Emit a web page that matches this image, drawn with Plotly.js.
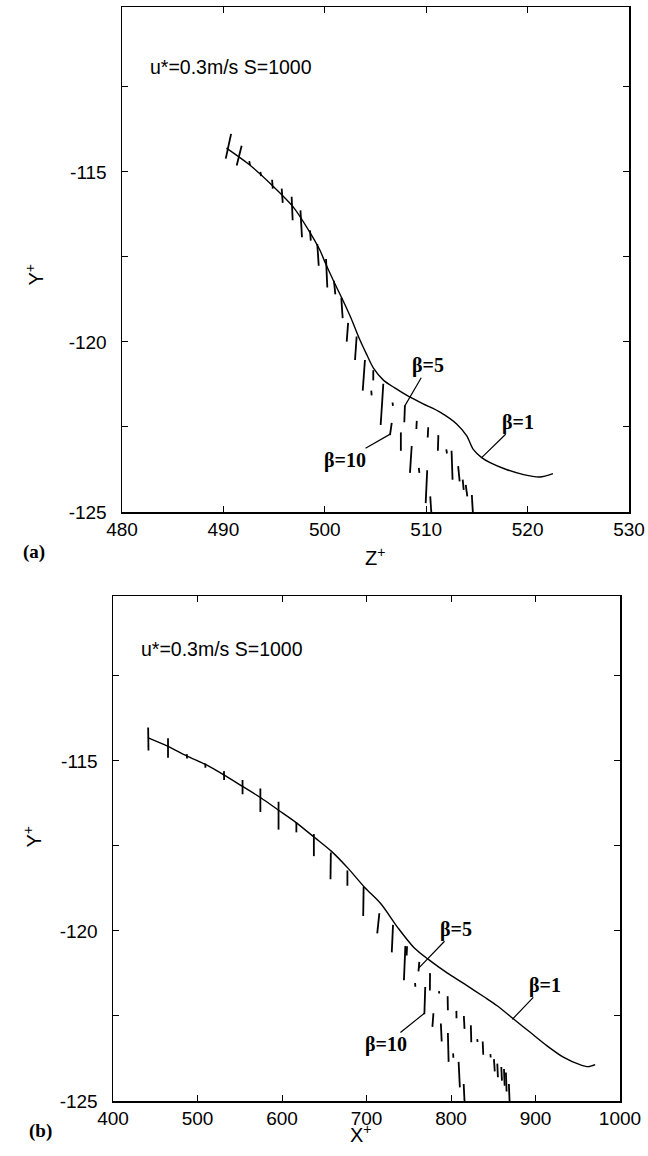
<!DOCTYPE html>
<html>
<head>
<meta charset="utf-8">
<script src="https://cdn.plot.ly/plotly-3.0.1.min.js"></script>
<style>html,body{margin:0;padding:0;background:#fff;}#chart{width:648px;height:1156px;}</style>
</head>
<body>
<div id="chart"></div>
<script>
// ---------- Panel (a): Y+ vs Z+ ----------
const zTicks = [480, 490, 500, 510, 520, 530];
const yTickVals = [-125, -120, -115];
const yTickText = ['-125', '-120', '-115'];
const yMinorVals = [-122.5, -117.5, -112.5];

const beta1Z = [490.3, 492.57, 494.8, 496.86, 498.5, 499.5, 500.1, 500.9, 501.76, 502.57, 503.4, 504.1, 504.8, 505.8, 506.9, 508.1, 509.7, 511.4, 513.0, 514.0, 514.64, 515.47, 516.3, 517.9, 519.6, 521.2, 522.5];
const beta1Ya = [-114.3, -114.79, -115.39, -116.02, -116.76, -117.29, -117.71, -118.23, -118.76, -119.29, -119.9, -120.35, -120.77, -121.13, -121.35, -121.57, -121.82, -122.07, -122.41, -122.76, -123.16, -123.4, -123.55, -123.75, -123.9, -123.97, -123.87];

// dashes [z0, y0, z1, y1] common to beta=5 and beta=10 before they separate
const sharedA = [
  [490.23, -114.61, 490.76, -113.88], [491.31, -114.81, 491.8, -114.23],
  [492.55, -114.68, 492.62, -114.8], [493.65, -115.0, 493.72, -115.12],
  [494.8, -115.23, 494.87, -115.49], [495.75, -115.49, 495.85, -115.91],
  [496.73, -115.73, 496.83, -116.42], [497.6, -116.13, 497.75, -116.92],
  [498.54, -116.72, 498.62, -117.02], [499.26, -117.12, 499.4, -117.76],
  [500.12, -117.56, 500.25, -118.4], [500.9, -118.2, 501.04, -118.6],
  [501.63, -118.7, 501.76, -119.3], [502.3, -119.44, 502.16, -119.99],
  [503.14, -119.84, 502.98, -120.53]
];
const beta5A = [
  [504.78, -120.83, 504.78, -121.13], [506.68, -121.78, 506.72, -121.88],
  [507.9, -121.87, 507.84, -122.36], [509.07, -122.32, 509.03, -122.56],
  [510.2, -122.51, 510.15, -122.81], [511.2, -122.74, 511.15, -123.2],
  [511.98, -123.16, 512.05, -123.28], [512.5, -123.2, 512.6, -124.05],
  [513.15, -123.65, 513.3, -124.1], [513.6, -124.05, 513.7, -124.35],
  [513.9, -124.2, 514.05, -124.54], [514.5, -124.5, 514.6, -125.0]
];
const beta10A = [
  [503.96, -120.53, 503.74, -121.43], [504.58, -121.43, 504.62, -121.57],
  [505.77, -121.23, 505.51, -122.44], [506.6, -122.38, 506.43, -122.74],
  [507.5, -122.66, 507.5, -123.2], [508.57, -123.06, 508.4, -123.85],
  [509.27, -123.7, 509.33, -123.85], [510.1, -123.77, 509.95, -124.74],
  [510.4, -124.54, 510.5, -125.0]
];

// ---------- Panel (b): Y+ vs X+ ----------
const xTicks = [400, 500, 600, 700, 800, 900, 1000];
const beta1X = [441.6, 465.1, 487.2, 511.7, 531.3, 553.3, 575.3, 595.9, 617.0, 639.0, 658.6, 678.3, 697.9, 717.0, 737.0, 756.6, 774.0, 795.8, 815.4, 839.9, 854.6, 874.1, 893.7, 913.3, 932.9, 952.5, 962.3, 970.6];
const beta1Yb = [-114.32, -114.57, -114.85, -115.13, -115.41, -115.75, -116.09, -116.45, -116.82, -117.26, -117.66, -118.16, -118.72, -119.2, -119.9, -120.5, -120.85, -121.24, -121.55, -121.95, -122.2, -122.59, -122.98, -123.37, -123.71, -123.93, -123.99, -123.93];

const sharedB = [
  [441.6, -114.02, 442.0, -114.69], [465.1, -114.33, 465.1, -114.91],
  [487.3, -114.8, 487.6, -114.93], [509.3, -115.08, 509.3, -115.2],
  [531.3, -115.3, 531.5, -115.56], [553.3, -115.56, 553.3, -115.98],
  [574.4, -115.81, 574.4, -116.5], [595.9, -116.2, 595.9, -117.02],
  [617.0, -116.8, 617.0, -117.1], [637.7, -117.15, 637.7, -117.8],
  [657.8, -117.69, 657.4, -118.48], [677.4, -118.22, 677.4, -118.67],
  [696.6, -118.7, 696.1, -119.56], [715.2, -119.48, 712.7, -120.07],
  [731.4, -119.82, 729.9, -120.63]
];
const beta5B = [
  [748.0, -120.45, 747.5, -120.72], [762.5, -120.91, 761.5, -121.19],
  [775.2, -121.24, 775.0, -121.75], [785.8, -121.77, 786.0, -121.84],
  [796.0, -121.92, 796.3, -122.33], [806.4, -122.35, 806.5, -122.57],
  [815.2, -122.5, 816.0, -122.88], [823.5, -122.77, 824.0, -123.27],
  [831.0, -123.18, 831.5, -123.26], [837.5, -123.25, 838.2, -123.64],
  [846.6, -123.62, 847.0, -123.72], [850.8, -123.77, 851.8, -124.13],
  [854.8, -123.9, 855.5, -124.3], [859.5, -124.0, 860.3, -124.4],
  [862.7, -124.06, 863.5, -124.55], [865.0, -124.16, 865.8, -124.72],
  [868.5, -124.5, 869.3, -125.0]
];
const beta10B = [
  [746.0, -120.44, 744.3, -121.45], [757.5, -121.53, 757.8, -121.64],
  [769.5, -121.65, 768.5, -122.45], [779.2, -122.42, 778.0, -122.82],
  [788.0, -122.72, 789.0, -123.25], [796.3, -123.0, 797.2, -123.85],
  [802.5, -123.6, 802.8, -123.73], [809.0, -123.85, 810.5, -124.6],
  [815.0, -124.5, 816.0, -125.0]
];
const scanMarkB = [397.3, -122.1, 397.3, -125.0];

const labelsA = [
  {text: 'β=5', tx: 510.2, ty: -120.7, px: 507.85, py: -121.9},
  {text: 'β=1', tx: 519.05, ty: -122.36, px: 515.47, py: -123.4},
  {text: 'β=10', tx: 501.96, ty: -123.48, px: 506.45, py: -122.71}
];
const labelsB = [
  {text: 'β=5', tx: 806, ty: -119.95, px: 761.5, py: -121.1},
  {text: 'β=1', tx: 911, ty: -121.6, px: 872.5, py: -122.6},
  {text: 'β=10', tx: 722.5, ty: -123.34, px: 768.5, py: -122.42}
];
const caseText = 'u*=0.3m/s S=1000';

// ---------- build ----------
const SANS = 'Liberation Sans, Arial, Helvetica, sans-serif';
const SERIF = 'Liberation Serif, Times New Roman, serif';
const W = 648, H = 1156;
const px = v => v / W, py = v => 1 - v / H;

function segTrace(segs, xa, ya) {
  const x = [], y = [];
  segs.forEach(s => { x.push(s[0], s[2], null); y.push(s[1], s[3], null); });
  return {x, y, xaxis: xa, yaxis: ya, type: 'scatter', mode: 'lines',
    line: {color: '#000', width: 1.8}, hoverinfo: 'skip', connectgaps: false};
}
function curve(x, y, xa, ya) {
  return {x, y, xaxis: xa, yaxis: ya, type: 'scatter', mode: 'lines',
    line: {color: '#000', width: 1.4, shape: 'spline', smoothing: 0.8}, hoverinfo: 'skip'};
}

const data = [
  curve(beta1Z, beta1Ya, 'x', 'y'),
  segTrace(sharedA, 'x', 'y'), segTrace(beta5A, 'x', 'y'), segTrace(beta10A, 'x', 'y'),
  curve(beta1X, beta1Yb, 'x2', 'y2'),
  segTrace(sharedB, 'x2', 'y2'), segTrace(beta5B, 'x2', 'y2'), segTrace(beta10B, 'x2', 'y2')
];

function axisBase(extra) {
  return Object.assign({
    showline: true, linecolor: '#000', linewidth: 1.5, mirror: 'ticks',
    ticks: 'inside', ticklen: 6, tickwidth: 1, tickcolor: '#000',
    showgrid: false, zeroline: false, fixedrange: true,
    tickfont: {family: SANS, size: 19, color: '#000'}
  }, extra);
}
const yMinor = {tickvals: yMinorVals, ticks: 'inside', ticklen: 6, tickwidth: 1, tickcolor: '#000', showgrid: false};

const annotations = [];
function betaAnn(l, xr, yr) {
  annotations.push({text: '<b>' + l.text + '</b>', x: l.px, y: l.py, xref: xr, yref: yr,
    ax: l.tx, ay: l.ty, axref: xr, ayref: yr, showarrow: true, arrowhead: 0,
    arrowwidth: 1.2, arrowcolor: '#000', standoff: 0, borderpad: 0,
    font: {family: SERIF, size: 20, color: '#000'}});
}
labelsA.forEach(l => betaAnn(l, 'x', 'y'));
labelsB.forEach(l => betaAnn(l, 'x2', 'y2'));

annotations.push({text: caseText, x: 482.56, y: -111.9, xref: 'x', yref: 'y', xanchor: 'left', yanchor: 'middle', showarrow: false, font: {family: SANS, size: 19.5, color: '#000'}});
annotations.push({text: caseText, x: 430.8, y: -111.72, xref: 'x2', yref: 'y2', xanchor: 'left', yanchor: 'middle', showarrow: false, font: {family: SANS, size: 19.5, color: '#000'}});

// axis titles and panel letters
const tf = {family: SANS, size: 20, color: '#000'};
annotations.push({text: 'Z<sup>+</sup>', x: px(375), y: py(556), xref: 'paper', yref: 'paper', showarrow: false, font: tf});
annotations.push({text: 'Y<sup>+</sup>', x: px(19), y: py(262), xref: 'paper', yref: 'paper', showarrow: false, textangle: -90, font: tf});
annotations.push({text: 'X<sup>+</sup>', x: px(361), y: py(1148), xref: 'paper', yref: 'paper', showarrow: false, font: tf});
annotations.push({text: 'Y<sup>+</sup>', x: px(17), y: py(850), xref: 'paper', yref: 'paper', showarrow: false, textangle: -90, font: tf});
annotations.push({text: '<b>(a)</b>', x: px(21), y: py(552), xref: 'paper', yref: 'paper', showarrow: false, font: {family: SERIF, size: 19, color: '#000'}});
annotations.push({text: '<b>(b)</b>', x: px(27), y: py(1144), xref: 'paper', yref: 'paper', showarrow: false, font: {family: SERIF, size: 19, color: '#000'}});

const layout = {
  width: W, height: H, margin: {l: 0, r: 0, t: 0, b: 0},
  paper_bgcolor: '#fff', plot_bgcolor: '#fff', showlegend: false,
  xaxis: axisBase({domain: [px(122), px(629)], anchor: 'y', range: [480, 530], tickvals: zTicks, ticklabelstandoff: 0}),
  yaxis: axisBase({domain: [py(512), py(7)], anchor: 'x', range: [-125, -110.15], tickvals: yTickVals, ticktext: yTickText, minor: yMinor, ticklabelstandoff: 10}),
  xaxis2: axisBase({domain: [px(113), px(620)], anchor: 'y2', range: [400, 1000], tickvals: xTicks, ticklabelstandoff: 0}),
  yaxis2: axisBase({domain: [py(1101), py(596)], anchor: 'x2', range: [-125, -110.15], tickvals: yTickVals, ticktext: yTickText, minor: yMinor, ticklabelstandoff: 10}),
  annotations: annotations,
  shapes: [{type: 'line', xref: 'x2', yref: 'y2', x0: scanMarkB[0], y0: scanMarkB[1], x1: scanMarkB[2], y1: scanMarkB[3], line: {color: '#000', width: 1}}]
};

Plotly.newPlot('chart', data, layout, {staticPlot: true, displayModeBar: false});
</script>
</body>
</html>
